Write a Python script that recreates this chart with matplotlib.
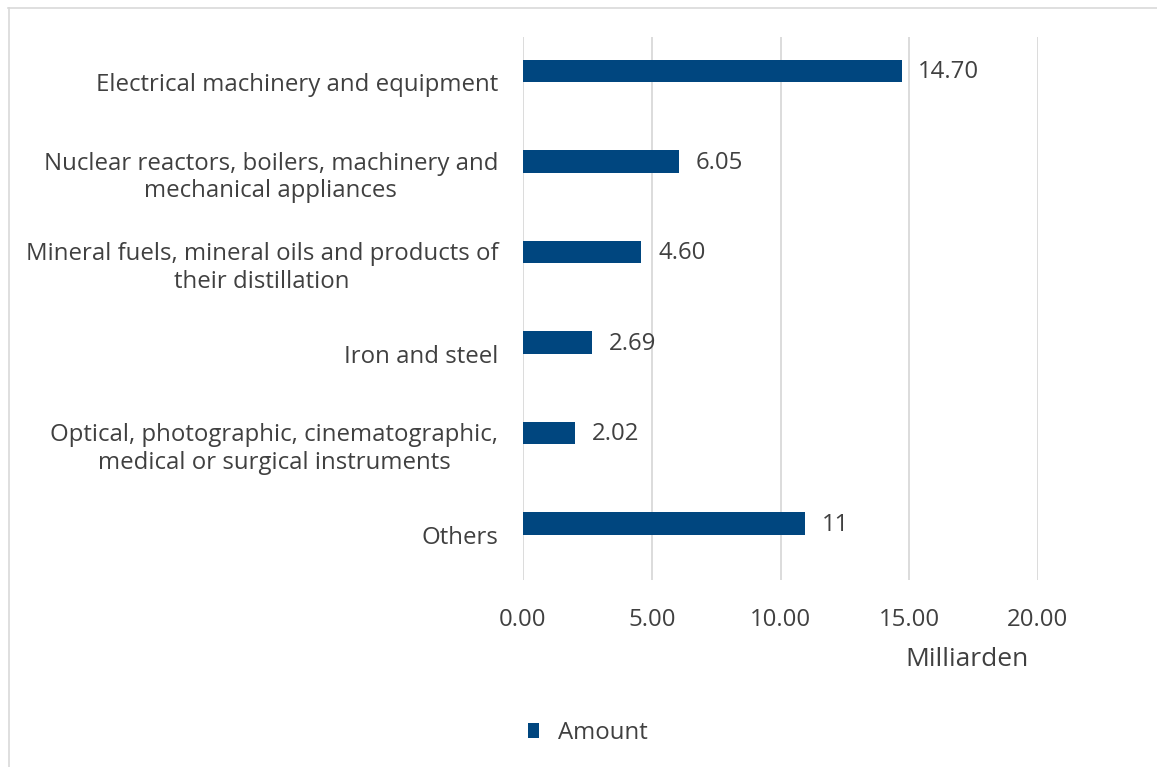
import matplotlib.pyplot as plt
from matplotlib.lines import Line2D
import numpy as np

plt.rcParams['font.family'] = ['Open Sans', 'DejaVu Sans']

categories = ["Electrical machinery and equipment",
              "Nuclear reactors, boilers, machinery and\nmechanical appliances",
              "Mineral fuels, mineral oils and products of\ntheir distillation",
              "Iron and steel",
              "Optical, photographic, cinematographic,\nmedical or surgical instruments",
              "Others"]
amounts = [14.70, 6.05, 4.60, 2.69, 2.02, 10.95]
value_labels = ["14.70", "6.05", "4.60", "2.69", "2.02", "11"]
xticks = [0, 5, 10, 15, 20]

bar_color = "#00467F"
text_color = "#404040"
fs = 17.3

fig = plt.figure(figsize=(11.57, 7.67), dpi=100)
ax = fig.add_axes([523/1157, 1-580/767, (1038-523)/1157, (580-37)/767])

y = np.arange(len(categories))
ax.barh(y - 0.125, amounts, height=0.25, color=bar_color, label="Amount", zorder=3)
for yi, v, lab in zip(y, amounts, value_labels):
    ax.text(v + 0.65, yi - 0.11, lab, va='center', ha='left', fontsize=fs, color=text_color)

ax.set_ylim(len(categories) - 0.5, -0.5)
ax.set_xlim(0, 20)
ax.set_yticks(y)
ax.set_yticklabels(categories, multialignment='center')
ax.set_xticks(xticks)
ax.set_xticklabels(["%.2f" % t for t in xticks])
ax.tick_params(axis='both', length=0, labelsize=fs, labelcolor=text_color)
ax.tick_params(axis='y', pad=18)
ax.tick_params(axis='x', pad=20)
ax.grid(axis='x', color="#D9D9D9", linewidth=1.3, zorder=0)
for s in ax.spines.values():
    s.set_visible(False)

fig.text(967/1157, 1-660/767, "Milliarden", ha='center', va='center', fontsize=19, color=text_color)

fig.legend(loc='center', bbox_to_anchor=(588/1157, 1-733/767), frameon=False,
           fontsize=fs, labelcolor=text_color, handlelength=0.46, handleheight=0.62,
           handletextpad=0.8)

fig.add_artist(Line2D([8/1157, 1], [1-8/767, 1-8/767], color="#D9D9D9", linewidth=1.2))
fig.add_artist(Line2D([9/1157, 9/1157], [0, 1-8/767], color="#D9D9D9", linewidth=1.2))

fig.savefig("out.png", dpi=100)
